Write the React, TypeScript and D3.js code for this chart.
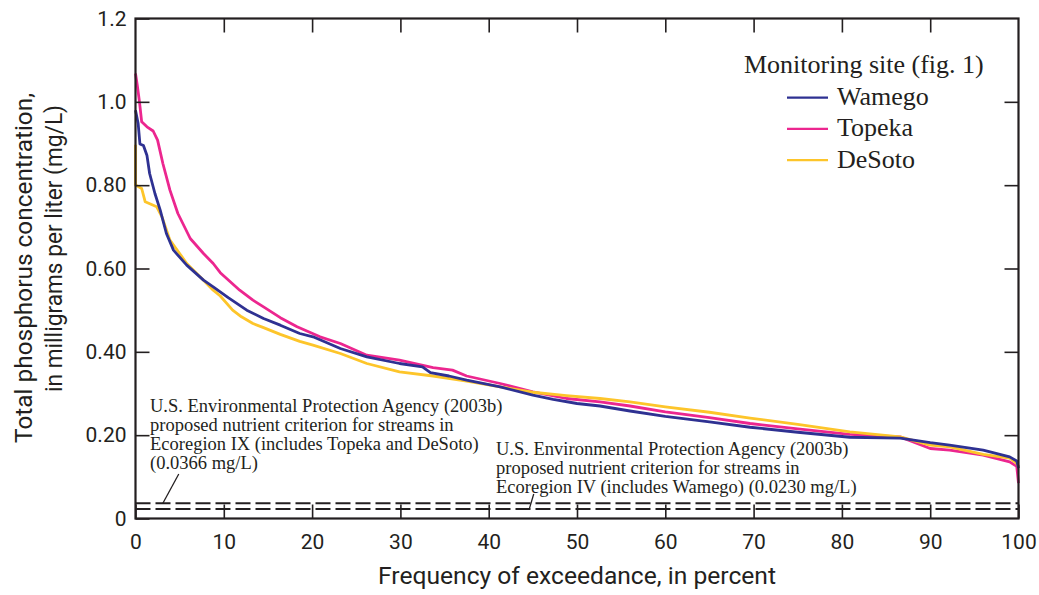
import React, { useEffect, useRef } from "react";
import * as d3 from "d3";

// frequency of exceedance (percent) and concentration (mg/L)
const wamegoPct = [0, 0.3, 0.5, 0.9, 1.3, 1.6, 2.2, 2.8, 3.5, 4.3, 5.8, 7.7, 8.8, 10.5, 12.6, 14.5, 16.4, 18.6, 20.1, 23.2, 26.2, 29.9, 32.5, 33.4, 35.5, 37.5, 41.3, 45.0, 47.3, 50, 52.6, 56, 60, 65, 69.6, 75, 80.9, 86.6, 90, 92.2, 96, 99, 99.8, 100];
const wamegoVal = [0.98, 0.948, 0.899, 0.895, 0.871, 0.828, 0.78, 0.74, 0.684, 0.644, 0.608, 0.572, 0.556, 0.53, 0.5, 0.48, 0.464, 0.444, 0.436, 0.408, 0.388, 0.372, 0.364, 0.35, 0.342, 0.332, 0.316, 0.296, 0.286, 0.276, 0.27, 0.258, 0.245, 0.232, 0.219, 0.207, 0.195, 0.193, 0.182, 0.176, 0.164, 0.148, 0.138, 0.121];

const topekaPct = [0, 0.2, 0.45, 0.7, 1.3, 2.0, 2.5, 3.1, 3.9, 4.8, 6.2, 7.7, 8.8, 9.6, 11.8, 13.3, 14.5, 16.4, 18.3, 20.9, 23.2, 26.2, 29.9, 33.7, 35.9, 37.5, 41.3, 45.0, 48.8, 52.6, 56, 60, 65, 69.6, 75, 80.9, 86.6, 90, 92.2, 96, 99, 99.8, 100];
const topekaVal = [1.068, 1.04, 1.0, 0.952, 0.94, 0.93, 0.908, 0.852, 0.788, 0.732, 0.672, 0.636, 0.612, 0.59, 0.548, 0.524, 0.508, 0.482, 0.46, 0.436, 0.42, 0.392, 0.38, 0.362, 0.356, 0.342, 0.324, 0.304, 0.288, 0.28, 0.27, 0.256, 0.242, 0.228, 0.215, 0.202, 0.196, 0.168, 0.164, 0.152, 0.136, 0.125, 0.085];

const desotoPct = [0, 0, 0.1, 0.7, 1.1, 2.4, 3.0, 3.9, 5.0, 5.8, 7.7, 8.8, 9.6, 11.0, 12.0, 13.3, 14.5, 16.4, 18.6, 20.1, 23.2, 26.2, 29.9, 33.7, 37.5, 41.3, 45.0, 48.8, 52.6, 56, 60, 65, 69.6, 75, 80.9, 86.6, 90, 92.2, 96, 99, 99.8, 100];
const desotoVal = [0.897, 0.8, 0.799, 0.792, 0.76, 0.748, 0.724, 0.668, 0.636, 0.612, 0.572, 0.548, 0.534, 0.5, 0.484, 0.468, 0.458, 0.442, 0.425, 0.416, 0.396, 0.372, 0.352, 0.342, 0.33, 0.316, 0.303, 0.295, 0.288, 0.28, 0.268, 0.255, 0.241, 0.226, 0.208, 0.196, 0.176, 0.172, 0.154, 0.145, 0.132, 0.125];

const seriesNames = ["Wamego", "Topeka", "DeSoto"];
const seriesColors = ["#2e3192", "#ec268f", "#fdc52a"];

const xTicks = [0, 10, 20, 30, 40, 50, 60, 70, 80, 90, 100];
const yTicks = [0, 0.2, 0.4, 0.6, 0.8, 1.0, 1.2];
const yTickLabels = ["0", "0.20", "0.40", "0.60", "0.80", "1.0", "1.2"];

// proposed EPA criteria (mg/L)
const criterionIX = 0.0366;
const criterionIV = 0.023;
const noteIX = [
  "U.S. Environmental Protection Agency (2003b)",
  "proposed nutrient criterion for streams in",
  "Ecoregion IX (includes Topeka and DeSoto)",
  "(0.0366 mg/L)",
];
const noteIV = [
  "U.S. Environmental Protection Agency (2003b)",
  "proposed nutrient criterion for streams in",
  "Ecoregion IV (includes Wamego) (0.0230 mg/L)",
];

const INK = "#231f20";
const SANS = "Roboto, 'Liberation Sans', sans-serif";
const SERIF = "'Liberation Serif', 'Times New Roman', serif";

const App = () => {
  const svgRef = useRef<SVGSVGElement | null>(null);

  useEffect(() => {
    const svg = d3.select(svgRef.current);
    svg.selectAll("*").remove();

    const x = d3.scaleLinear().domain([0, 100]).range([135.5, 1018.5]);
    const y = d3.scaleLinear().domain([0, 1.2]).range([518.5, 18.5]);

    // criterion lines (drawn under the curves)
    [criterionIX, criterionIV].forEach((c) => {
      svg
        .append("line")
        .attr("x1", x(0))
        .attr("x2", x(100))
        .attr("y1", y(c))
        .attr("y2", y(c))
        .attr("stroke", INK)
        .attr("stroke-width", 2)
        .attr("stroke-dasharray", "15,5");
    });

    // curves
    const line = d3
      .line<[number, number]>()
      .x((d) => x(d[0]))
      .y((d) => y(d[1]));

    const series: [number, number][][] = [
      wamegoPct.map((p, i) => [p, wamegoVal[i]]),
      topekaPct.map((p, i) => [p, topekaVal[i]]),
      desotoPct.map((p, i) => [p, desotoVal[i]]),
    ];
    [1, 2, 0].forEach((i) => {
      svg
        .append("path")
        .datum(series[i])
        .attr("d", line)
        .attr("fill", "none")
        .attr("stroke", seriesColors[i])
        .attr("stroke-width", 2.8)
        .attr("stroke-linejoin", "round");
    });

    // frame
    svg
      .append("rect")
      .attr("x", x(0))
      .attr("y", y(1.2))
      .attr("width", x(100) - x(0))
      .attr("height", y(0) - y(1.2))
      .attr("fill", "none")
      .attr("stroke", INK)
      .attr("stroke-width", 2.2);

    // axes, ticks pointing inward
    const styleAxis = (g: any) => {
      g.select(".domain").remove();
      g.selectAll(".tick line").attr("stroke", INK).attr("stroke-width", 1.6);
      g.selectAll(".tick text")
        .attr("fill", INK)
        .style("font-family", SANS)
        .style("font-size", "21px");
    };

    svg
      .append("g")
      .attr("transform", `translate(${x(0)},0)`)
      .call(
        d3
          .axisLeft(y)
          .tickValues(yTicks)
          .tickSize(-14)
          .tickPadding(9)
          .tickFormat((d, i) => yTickLabels[i])
      )
      .call(styleAxis);

    svg
      .append("g")
      .attr("transform", `translate(${x(100)},0)`)
      .call(d3.axisRight(y).tickValues(yTicks.slice(1, -1)).tickSize(-14).tickFormat(() => ""))
      .call(styleAxis);

    svg
      .append("g")
      .attr("transform", `translate(0,${y(0)})`)
      .call(d3.axisBottom(x).tickValues(xTicks).tickSize(-14).tickPadding(15.5).tickFormat((d) => String(d)))
      .call(styleAxis);

    svg
      .append("g")
      .attr("transform", `translate(0,${y(1.2)})`)
      .call(d3.axisTop(x).tickValues(xTicks.slice(1, -1)).tickSize(-14).tickFormat(() => ""))
      .call(styleAxis);

    // axis titles
    svg
      .append("text")
      .attr("x", 577)
      .attr("y", 584)
      .attr("text-anchor", "middle")
      .attr("textLength", 398)
      .attr("lengthAdjust", "spacingAndGlyphs")
      .style("font-family", SANS)
      .style("font-size", "24px")
      .attr("fill", INK)
      .text("Frequency of exceedance, in percent");

    const yTitle = [
      { text: "Total phosphorus concentration,", tx: 31.5, ty: 268, len: 350 },
      { text: "in milligrams per liter (mg/L)", tx: 61.5, ty: 248.5, len: 287 },
    ];
    yTitle.forEach((t) => {
      svg
        .append("text")
        .attr("transform", `translate(${t.tx},${t.ty}) rotate(-90)`)
        .attr("text-anchor", "middle")
        .attr("textLength", t.len)
        .attr("lengthAdjust", "spacingAndGlyphs")
        .style("font-family", SANS)
        .style("font-size", "24px")
        .attr("fill", INK)
        .text(t.text);
    });

    // annotations
    const note = (lines: string[], left: number, top: number) => {
      const t = svg
        .append("text")
        .style("font-family", SERIF)
        .style("font-size", "18.5px")
        .attr("fill", INK);
      lines.forEach((l, i) => {
        t.append("tspan").attr("x", left).attr("y", top + i * 19).text(l);
      });
    };
    note(noteIX, 150, 412);
    note(noteIV, 496, 455);

    svg
      .append("line")
      .attr("x1", x(3.1))
      .attr("y1", y(criterionIX))
      .attr("x2", x(4.9))
      .attr("y2", 474)
      .attr("stroke", INK)
      .attr("stroke-width", 1.3);
    svg
      .append("line")
      .attr("x1", x(44.6))
      .attr("y1", y(criterionIV))
      .attr("x2", x(45.1))
      .attr("y2", 494)
      .attr("stroke", INK)
      .attr("stroke-width", 1.3);

    // legend
    const legend = svg.append("g").style("font-family", SERIF).style("font-size", "26px");
    legend.append("text").attr("x", 744).attr("y", 73).attr("fill", INK).text("Monitoring site (fig. 1)");
    seriesNames.forEach((name, i) => {
      const ly = 97.7 + i * 31.2;
      legend
        .append("line")
        .attr("x1", 787)
        .attr("x2", 828)
        .attr("y1", ly)
        .attr("y2", ly)
        .attr("stroke", seriesColors[i])
        .attr("stroke-width", 2.2);
      legend
        .append("text")
        .attr("x", 837)
        .attr("y", ly + 7.5)
        .attr("fill", INK)
        .text(name);
    });
  }, []);

  return (
    <svg
      ref={svgRef}
      width={1039}
      height={595}
      style={{ position: "absolute", left: 0, top: 0, background: "#fff" }}
    />
  );
};

export default App;
